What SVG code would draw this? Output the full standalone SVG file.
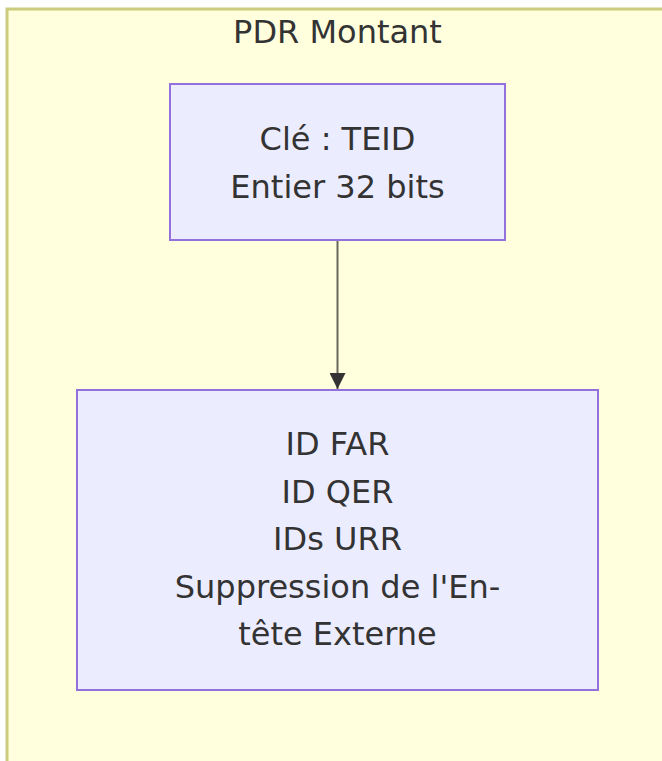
<svg xmlns="http://www.w3.org/2000/svg" width="662" height="761" viewBox="0 0 662 761">
<style>
.cluster{fill:#ffffde;stroke:#aaaa33;stroke-width:3;stroke-opacity:0.6}
.node{fill:#ececff;stroke:#9370db;stroke-width:2}
.lbl{font-family:"DejaVu Sans",sans-serif;font-size:32px;fill:#333333;text-anchor:middle}
.edge{stroke:#333333;stroke-width:2;fill:none;stroke-opacity:0.75}
</style>
<defs>
<marker id="arrow" viewBox="0 0 10 10" refX="10" refY="5" markerUnits="userSpaceOnUse" markerWidth="16" markerHeight="16" orient="auto">
<path d="M0,0 L10,5 L0,10 z" fill="#333333"/>
</marker>
</defs>
<rect width="662" height="761" fill="#ffffff"/>
<g id="cluster-pdr">
<rect class="cluster" x="7" y="9" width="680" height="780"/>
<text class="lbl" x="337.5" y="43">PDR Montant</text>
</g>
<g id="connectors">
<line class="edge" x1="337.5" y1="241" x2="337.5" y2="389" marker-end="url(#arrow)"/>
</g>
<g id="node-key">
<rect class="node" x="170" y="84" width="335" height="156"/>
<text class="lbl" x="337.5" y="150">Clé : TEID</text>
<text class="lbl" x="337.5" y="198">Entier 32 bits</text>
</g>
<g id="node-actions">
<rect class="node" x="77" y="390" width="521" height="300"/>
<text class="lbl" x="337.5" y="455">ID FAR</text>
<text class="lbl" x="337.5" y="502.5">ID QER</text>
<text class="lbl" x="337.5" y="550">IDs URR</text>
<text class="lbl" x="337.5" y="597.5">Suppression de l'En-</text>
<text class="lbl" x="337.5" y="645">tête Externe</text>
</g>
</svg>
